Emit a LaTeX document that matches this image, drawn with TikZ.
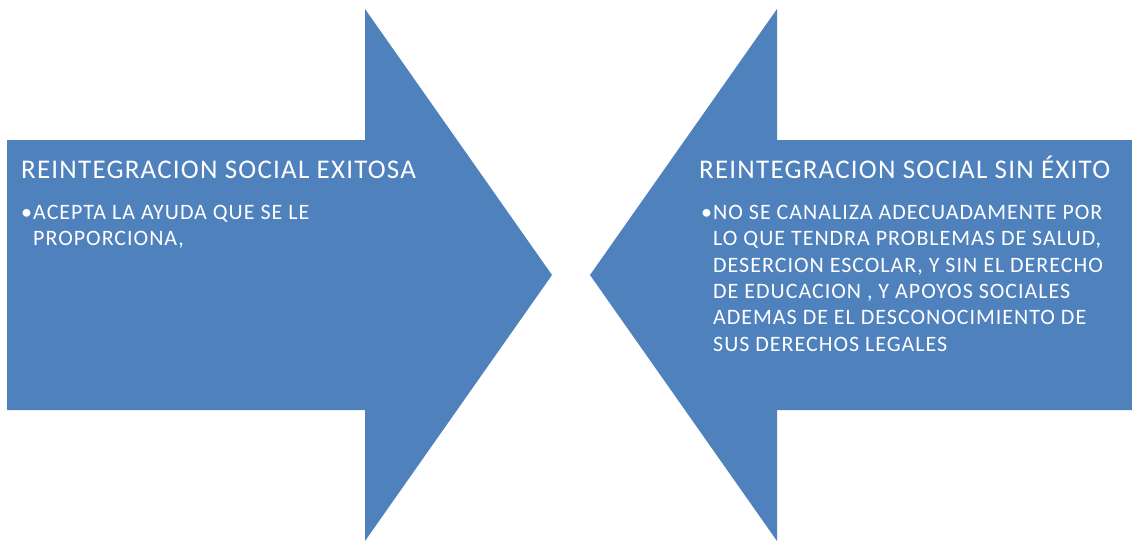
\documentclass[tikz,border=0pt]{standalone}
\usepackage{fontspec}
\setmainfont{Carlito}
\newfontfamily\officefont[LetterSpace=4.5]{Carlito}
\usetikzlibrary{positioning}
\definecolor{officeblue}{HTML}{4F81BD}
\tikzstyle{bigarrow} = [fill=officeblue, draw=none]
\tikzstyle{heading} = [text=white, anchor=base west, inner sep=0pt,
                       font=\officefont\fontsize{27}{32}\selectfont]
\tikzstyle{dot} = [heading, font=\fontsize{22}{26.4}\selectfont]
\tikzstyle{itemtext} = [text=white, anchor=north west, inner sep=0pt,
                        align=left, font=\officefont\fontsize{22}{26.4}\selectfont]
\newcommand{\heading}[3]{\node [heading] (#1) at (#2) {#3};}

\begin{document}
\begin{tikzpicture}[x=1pt, y=-1pt]
  \useasboundingbox (0,0) rectangle (1132,542);
  % arrow pointing right
  \fill [bigarrow] (7,140) -- (365,140) -- (365,9) -- (552,275)
    -- (365,541) -- (365,410) -- (7,410) -- cycle;
  % arrow pointing left
  \fill [bigarrow] (1132,140) -- (777,140) -- (777,9) -- (590,275)
    -- (777,541) -- (777,410) -- (1132,410) -- cycle;

  \heading {exitosa} {21,178} {REINTEGRACION SOCIAL EXITOSA}
  \node [dot] (dotl) at (21,219) {•};
  \node [itemtext] (ayuda) at (33,204.8)
    {ACEPTA LA AYUDA QUE SE LE\\PROPORCIONA,};

  \heading {sinexito} {699,178} {REINTEGRACION SOCIAL SIN ÉXITO}
  \node [dot] (dotr) at (701,219) {•};
  \node [itemtext] (canaliza) at (713,204.8)
    {NO SE CANALIZA ADECUADAMENTE POR\\
     LO QUE TENDRA PROBLEMAS DE SALUD,\\
     DESERCION ESCOLAR, Y SIN EL DERECHO\\
     DE EDUCACION , Y APOYOS SOCIALES\\
     ADEMAS DE EL DESCONOCIMIENTO DE\\
     SUS DERECHOS LEGALES};
\end{tikzpicture}
\end{document}
